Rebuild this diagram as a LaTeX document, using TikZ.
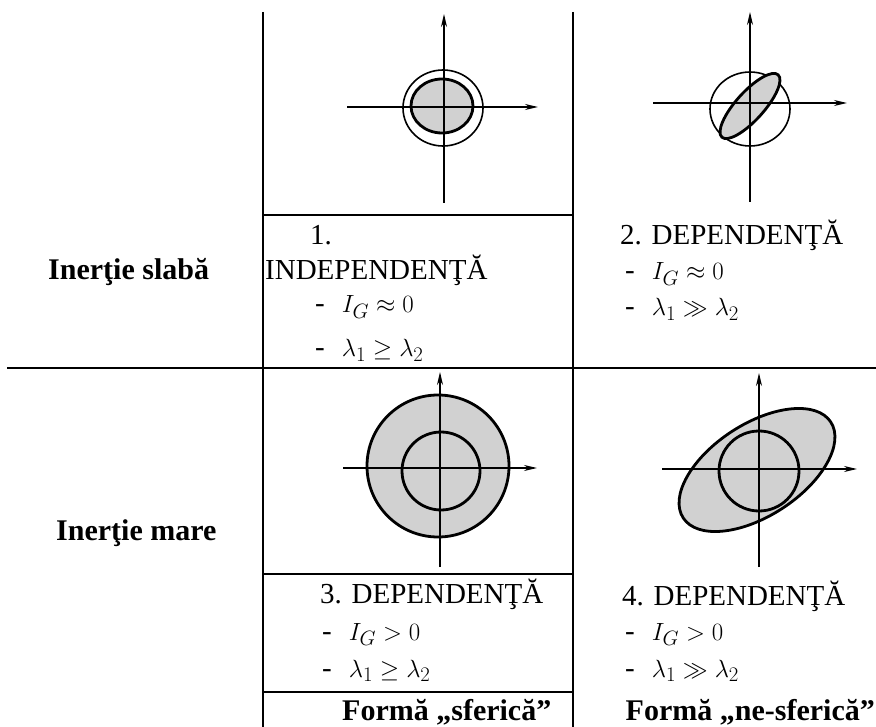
\documentclass[tikz,border=0pt]{standalone}
\usepackage{fontspec}
\setmainfont{Liberation Serif}
\usetikzlibrary{arrows.meta}
\begin{document}
\begin{tikzpicture}[x=1pt,y=-1pt,
  rule/.style={line width=1.8pt},
  axis/.style={line width=1.6pt,-{Stealth[length=13pt,width=6pt]}},
  thinring/.style={line width=1.6pt},
  thickring/.style={line width=2.8pt},
  shade/.style={fill=black!18},
  txt/.style={anchor=base west,inner sep=0pt,font=\fontsize{29}{31}\selectfont},
  lab/.style={anchor=base west,inner sep=0pt,font=\fontsize{30}{32}\selectfont\bfseries}]
\useasboundingbox (0,0) rectangle (876,727);
% table rules
\draw[rule] (263,12) -- (263,727);
\draw[rule] (573,12) -- (573,727);
\draw[rule] (263,215) -- (573,215);
\draw[rule] (7,368) -- (876,368);
\draw[rule] (263,574) -- (573,574);
\draw[rule] (263,692) -- (573,692);
% row labels
\node[lab] (slaba) at (48,280) {Inerţie slabă};
\node[lab] (mare) at (56,540) {Inerţie mare};
% cell 1
\draw[thinring] (443,108) ellipse [x radius=40, y radius=38];
\draw[thickring,shade] (442,106) ellipse [x radius=31, y radius=27];
\coordinate (a1l) at (347,107); \coordinate (a1r) at (538,107);
\coordinate (a1b) at (444,203); \coordinate (a1t) at (444,14);
\draw[axis] (a1l) -- (a1r);
\draw[axis] (a1b) -- (a1t);
% cell 2
\draw[thinring] (750,109) ellipse [x radius=40, y radius=37];
\draw[thickring,shade,rotate around={48:(750,106)}] (750,106) ellipse [x radius=42, y radius=14];
\coordinate (a2l) at (653,103); \coordinate (a2r) at (847,103);
\coordinate (a2b) at (750,202); \coordinate (a2t) at (750,12);
\draw[axis] (a2l) -- (a2r);
\draw[axis] (a2b) -- (a2t);
% cell 3
\draw[thickring,shade] (438,466) circle [radius=71];
\draw[thickring,shade] (441,471) circle [radius=39];
\coordinate (a3l) at (343,468); \coordinate (a3r) at (537,468);
\coordinate (a3b) at (440,567); \coordinate (a3t) at (440,372);
\draw[axis] (a3l) -- (a3r);
\draw[axis] (a3b) -- (a3t);
% cell 4
\draw[thickring,shade,rotate around={33:(757,470)}] (757,470) ellipse [x radius=88, y radius=46];
\draw[thickring,shade] (759,471) circle [radius=40];
\coordinate (a4l) at (662,469); \coordinate (a4r) at (857,469);
\coordinate (a4b) at (759,567); \coordinate (a4t) at (759,373);
\draw[axis] (a4l) -- (a4r);
\draw[axis] (a4b) -- (a4t);
% texts cell 1
\node[txt] (t1a) at (310,245) {1.};
\node[txt] (t1b) at (265,280) {INDEPENDENŢĂ};
\node[txt] (t1c) at (315,313) {-\hspace{17pt}$I_G \approx 0$};
\node[txt] (t1d) at (315,357) {-\hspace{17pt}$\lambda_1 \geq \lambda_2$};
% texts cell 2
\node[txt] (t2a) at (620,245) {2. DEPENDENŢĂ};
\node[txt] (t2c) at (625,280) {-\hspace{17pt}$I_G \approx 0$};
\node[txt] (t2d) at (625,316) {-\hspace{17pt}$\lambda_1 \gg \lambda_2$};
% texts cell 3
\node[txt] (t3a) at (320,603) {3. DEPENDENŢĂ};
\node[txt] (t3c) at (322,640) {-\hspace{17pt}$I_G > 0$};
\node[txt] (t3d) at (322,677) {-\hspace{17pt}$\lambda_1 \geq \lambda_2$};
\node[lab] (t3e) at (342,720) {Formă „sferică”};
% texts cell 4
\node[txt] (t4a) at (622,605) {4. DEPENDENŢĂ};
\node[txt] (t4c) at (625,640) {-\hspace{17pt}$I_G > 0$};
\node[txt] (t4d) at (625,677) {-\hspace{17pt}$\lambda_1 \gg \lambda_2$};
\node[lab,anchor=base east] (t4e) at (875,720) {Formă „ne-sferică”};
\end{tikzpicture}
\end{document}
